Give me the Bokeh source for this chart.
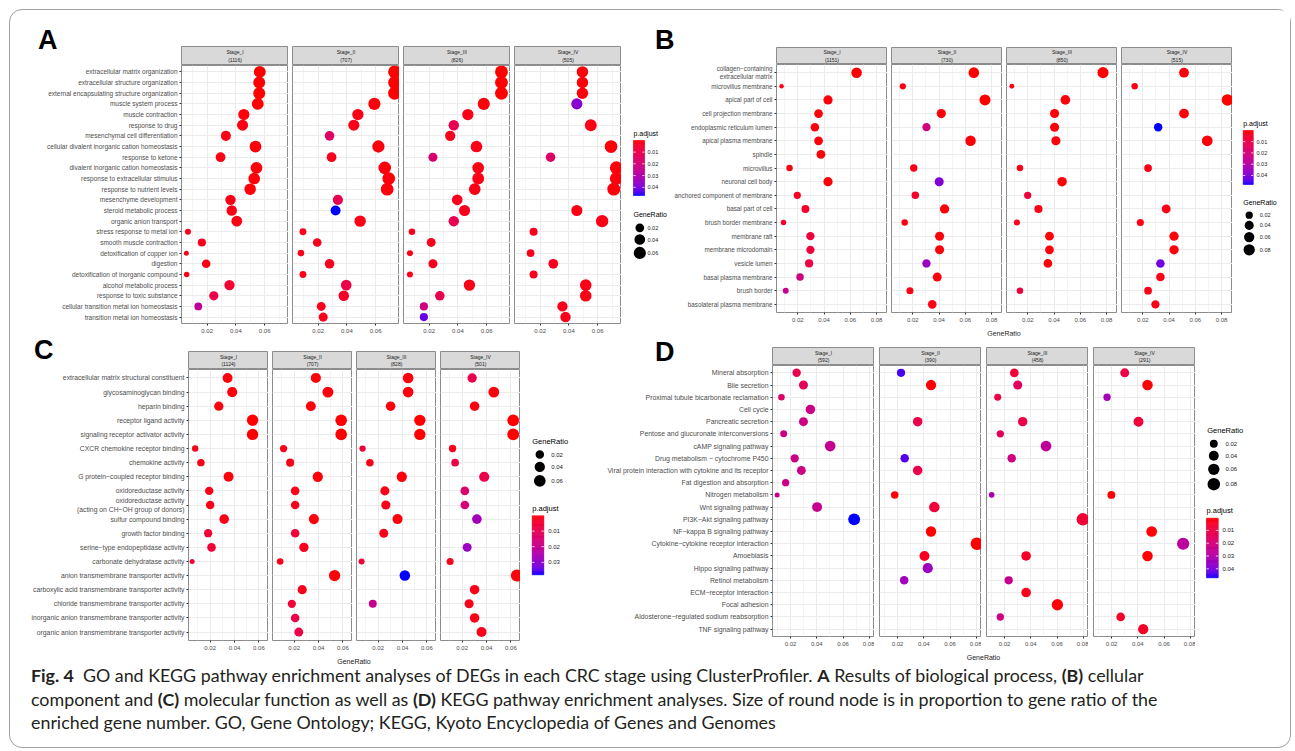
import math
from bokeh.plotting import figure
from bokeh.models import Range1d, FactorRange, FixedTicker, NumeralTickFormatter, ColumnDataSource, Div, Spacer
from bokeh.layouts import row, column
from bokeh.transform import linear_cmap
from bokeh.core.properties import value
from bokeh.embed import file_html
from bokeh.resources import INLINE

FONT = "Liberation Sans"
STAGES = ["Stage_I", "Stage_II", "Stage_III", "Stage_IV"]

# ---------------- A: GO biological process ----------------
A_terms = ["extracellular matrix organization", "extracellular structure organization",
           "external encapsulating structure organization", "muscle system process", "muscle contraction",
           "response to drug", "mesenchymal cell differentiation", "cellular divalent inorganic cation homeostasis",
           "response to ketone", "divalent inorganic cation homeostasis", "response to extracellular stimulus",
           "response to nutrient levels", "mesenchyme development", "steroid metabolic process",
           "organic anion transport", "stress response to metal ion", "smooth muscle contraction",
           "detoxification of copper ion", "digestion", "detoxification of inorganic compound",
           "alcohol metabolic process", "response to toxic substance",
           "cellular transition metal ion homeostasis", "transition metal ion homeostasis"]
A_counts = [1116, 707, 826, 505]
A_ratio_I = [0.0566, 0.0562, 0.0562, 0.0552, 0.0455, 0.0446, 0.0330, 0.0536, 0.0293, 0.0543, 0.0527, 0.0499,
             0.0362, 0.0371, 0.0406, 0.0066, 0.0163, 0.0055, 0.0193, 0.0057, 0.0355, 0.0246, 0.0138, None]
A_padj_I = [0.0002, 0.0002, 0.0002, 0.0004, 0.0008, 0.0015, 0.002, 0.001, 0.002, 0.001, 0.001, 0.001,
            0.002, 0.002, 0.002, 0.003, 0.003, 0.003, 0.002, 0.003, 0.006, 0.010, 0.026, None]
A_ratio_II = [0.0732, 0.0732, 0.0732, 0.0591, 0.0476, 0.0448, 0.0279, 0.0619, 0.0293, 0.0663, 0.0691, 0.0680,
              0.0337, 0.0321, 0.0492, 0.0094, 0.0193, 0.0080, 0.0279, 0.0094, 0.0395, 0.0378, 0.0221, 0.0235]
A_padj_II = [0.0001, 0.0001, 0.0001, 0.001, 0.002, 0.002, 0.016, 0.001, 0.003, 0.001, 0.001, 0.001,
             0.012, 0.047, 0.002, 0.003, 0.003, 0.003, 0.003, 0.003, 0.010, 0.004, 0.003, 0.003]
A_ratio_III = [0.0703, 0.0703, 0.0703, 0.0580, 0.0469, 0.0371, 0.0346, 0.0529, 0.0226, 0.0541, 0.0541, 0.0517,
               0.0395, 0.0446, 0.0371, 0.0080, 0.0214, 0.0066, 0.0226, 0.0066, 0.0480, 0.0274, 0.0163, 0.0163]
A_padj_III = [0.0001, 0.0001, 0.0001, 0.001, 0.002, 0.012, 0.003, 0.002, 0.018, 0.002, 0.002, 0.002,
              0.003, 0.003, 0.012, 0.003, 0.003, 0.003, 0.003, 0.003, 0.002, 0.011, 0.022, 0.042]
A_ratio_IV = [0.0494, 0.0494, 0.0494, 0.0455, None, 0.0552, None, 0.0693, 0.0272, 0.0730, 0.0730, 0.0712,
              None, 0.0455, 0.0631, 0.0154, None, 0.0133, 0.0291, 0.0154, 0.0517, 0.0517, 0.0355, 0.0376]
A_padj_IV = [0.001, 0.001, 0.001, 0.038, None, 0.002, None, 0.001, 0.016, 0.001, 0.001, 0.001,
             None, 0.002, 0.002, 0.003, None, 0.003, 0.003, 0.003, 0.002, 0.002, 0.003, 0.003]

# ---------------- B: GO cellular component ----------------
B_terms = ["collagen\u2212containing\nextracellular matrix", "microvillus membrane", "apical part of cell",
           "cell projection membrane", "endoplasmic reticulum lumen", "apical plasma membrane", "spindle",
           "microvillus", "neuronal cell body", "anchored component of membrane", "basal part of cell",
           "brush border membrane", "membrane raft", "membrane microdomain", "vesicle lumen",
           "basal plasma membrane", "brush border", "basolateral plasma membrane"]
B_counts = [1151, 730, 850, 515]
B_ratio_I = [0.0648, 0.0076, 0.0430, 0.0358, 0.0330, 0.0358, 0.0376, 0.0137, 0.0430, 0.0196, 0.0258, 0.0091,
             0.0296, 0.0296, 0.0286, 0.0217, 0.0108, None]
B_padj_I = [0.0002, 0.002, 0.001, 0.001, 0.001, 0.001, 0.001, 0.002, 0.001, 0.004, 0.005, 0.005,
            0.008, 0.008, 0.010, 0.022, 0.025, None]
B_ratio_II = [0.0665, 0.0124, 0.0750, 0.0417, 0.0304, 0.0640, None, 0.0207, 0.0401, 0.0219, 0.0442, 0.0138,
              0.0404, 0.0404, 0.0304, 0.0386, 0.0178, 0.0348]
B_padj_II = [0.0002, 0.002, 0.0002, 0.001, 0.022, 0.001, None, 0.002, 0.040, 0.005, 0.001, 0.002,
             0.001, 0.001, 0.036, 0.001, 0.002, 0.002]
B_ratio_III = [0.0773, 0.0078, 0.0486, 0.0404, 0.0404, 0.0414, None, 0.0140, 0.0461, 0.0199, 0.0281, 0.0117,
               0.0365, 0.0365, 0.0353, None, 0.0140, None]
B_padj_III = [0.0001, 0.002, 0.001, 0.001, 0.001, 0.001, None, 0.002, 0.001, 0.008, 0.002, 0.003,
              0.001, 0.001, 0.001, None, 0.008, None]
B_ratio_IV = [0.0514, 0.0138, 0.0845, 0.0514, 0.0317, 0.0691, None, 0.0240, None, None, 0.0378, 0.0181,
              0.0438, 0.0438, 0.0334, 0.0334, 0.0240, 0.0296]
B_padj_IV = [0.001, 0.002, 0.0002, 0.001, 0.048, 0.001, None, 0.002, None, None, 0.002, 0.002,
             0.001, 0.001, 0.042, 0.002, 0.002, 0.002]

# ---------------- C: GO molecular function ----------------
C_terms = ["extracellular matrix structural constituent", "glycosaminoglycan binding", "heparin binding",
           "receptor ligand activity", "signaling receptor activator activity", "CXCR chemokine receptor binding",
           "chemokine activity", "G protein\u2212coupled receptor binding", "oxidoreductase activity",
           "oxidoreductase activity\n(acting on CH\u2212OH group of donors)", "sulfur compound binding",
           "growth factor binding", "serine\u2212type endopeptidase activity", "carbonate dehydratase activity",
           "anion transmembrane transporter activity", "carboxylic acid transmembrane transporter activity",
           "chloride transmembrane transporter activity", "inorganic anion transmembrane transporter activity",
           "organic anion transmembrane transporter activity"]
C_counts = [1124, 707, 828, 501]
C_ratio_I = [0.0343, 0.0381, 0.0271, 0.0548, 0.0548, 0.0077, 0.0124, 0.0351, 0.0192, 0.0200, 0.0315, 0.0183,
             0.0211, 0.0052, None, None, None, None, None]
C_padj_I = [0.001, 0.001, 0.001, 0.0002, 0.0002, 0.002, 0.002, 0.001, 0.002, 0.002, 0.002, 0.006,
            0.006, 0.006, None, None, None, None, None]
C_ratio_II = [0.0378, 0.0477, 0.0337, 0.0586, 0.0586, 0.0113, 0.0167, 0.0394, 0.0208, 0.0208, 0.0362, 0.0208,
              0.0280, 0.0085, 0.0532, 0.0266, 0.0181, 0.0208, 0.0238]
C_padj_II = [0.001, 0.001, 0.001, 0.0002, 0.0002, 0.002, 0.002, 0.001, 0.002, 0.003, 0.001, 0.006,
             0.003, 0.002, 0.001, 0.002, 0.006, 0.008, 0.008]
C_ratio_III = [0.0446, 0.0446, 0.0302, 0.0542, 0.0542, 0.0072, 0.0132, 0.0394, 0.0255, 0.0263, 0.0359, 0.0246,
               None, 0.0064, 0.0419, None, 0.0156, None, None]
C_padj_III = [0.001, 0.001, 0.001, 0.0002, 0.0002, 0.006, 0.002, 0.001, 0.002, 0.002, 0.001, 0.002,
              None, 0.006, 0.038, None, 0.020, None, None]
C_ratio_IV = [0.0282, 0.0460, 0.0302, 0.0619, 0.0619, 0.0121, 0.0142, 0.0381, 0.0222, 0.0222, 0.0321, None,
              0.0241, 0.0101, 0.0649, 0.0302, 0.0257, 0.0302, 0.0359]
C_padj_IV = [0.009, 0.001, 0.001, 0.0002, 0.0002, 0.002, 0.008, 0.009, 0.014, 0.016, 0.027, None,
             0.028, 0.002, 0.001, 0.002, 0.002, 0.002, 0.002]

# ---------------- D: KEGG pathways ----------------
D_terms = ["Mineral absorption", "Bile secretion", "Proximal tubule bicarbonate reclamation", "Cell cycle",
           "Pancreatic secretion", "Pentose and glucuronate interconversions", "cAMP signaling pathway",
           "Drug metabolism \u2212 cytochrome P450", "Viral protein interaction with cytokine and its receptor",
           "Fat digestion and absorption", "Nitrogen metabolism", "Wnt signaling pathway",
           "PI3K\u2212Akt signaling pathway", "NF\u2212kappa B signaling pathway",
           "Cytokine\u2212cytokine receptor interaction", "Amoebiasis", "Hippo signaling pathway",
           "Retinol metabolism", "ECM\u2212receptor interaction", "Focal adhesion",
           "Aldosterone\u2212regulated sodium reabsorption", "TNF signaling pathway"]
D_counts = [592, 390, 458, 291]
D_ratio_I = [0.0246, 0.0298, 0.0130, 0.0351, 0.0298, 0.0147, 0.0502, 0.0231, 0.0282, 0.0162, 0.0097, 0.0402,
             0.0685, None, None, None, None, None, None, None, None, None]
D_padj_I = [0.012, 0.014, 0.017, 0.023, 0.023, 0.023, 0.025, 0.023, 0.023, 0.023, 0.025, 0.025,
            0.047, None, None, None, None, None, None, None, None, None]
D_ratio_II = [0.0226, 0.0455, None, None, 0.0353, None, None, 0.0254, 0.0353, None, 0.0178, 0.0480,
              None, 0.0455, 0.0805, 0.0405, 0.0430, 0.0250, None, None, None, None]
D_padj_II = [0.045, 0.001, None, None, 0.011, None, None, 0.044, 0.011, None, 0.001, 0.008,
             None, 0.001, 0.0005, 0.004, 0.035, 0.034, None, None, None, None]
D_ratio_III = [0.0274, 0.0300, 0.0147, None, 0.0338, 0.0167, 0.0516, 0.0254, None, None, 0.0101, None,
               0.0797, None, None, 0.0364, None, 0.0231, 0.0364, 0.0603, 0.0167, None]
D_padj_III = [0.008, 0.015, 0.010, None, 0.010, 0.014, 0.027, 0.022, None, None, 0.032, None,
              0.007, None, None, 0.005, None, 0.025, 0.003, 0.001, 0.022, None]
D_ratio_IV = [0.0300, 0.0474, 0.0165, None, 0.0405, None, None, None, None, None, 0.0198, None,
              None, 0.0506, 0.0746, 0.0474, None, None, None, None, 0.0269, 0.0441]
D_padj_IV = [0.010, 0.001, 0.033, None, 0.008, None, None, None, None, None, 0.001, None,
             None, 0.001, 0.028, 0.001, None, None, None, None, 0.005, 0.005]

CAPTION = ('<b>Fig. 4</b>&ensp;GO and KEGG pathway enrichment analyses of DEGs in each CRC stage using '
           'ClusterProfiler. <b>A</b> Results of biological process, <b>(B)</b> cellular<br>'
           'component and <b>(C)</b> molecular function as well as <b>(D)</b> KEGG pathway enrichment analyses. '
           'Size of round node is in proportion to gene ratio of the<br>'
           'enriched gene number. GO, Gene Ontology; KEGG, Kyoto Encyclopedia of Genes and Genomes')


# ---------------- colour palette: red -> blue interpolated in Lab ----------------
def _lin(c):
    c /= 255.0
    return c / 12.92 if c <= 0.04045 else ((c + 0.055) / 1.055) ** 2.4


def _gam(c):
    c = min(max(c, 0.0), 1.0)
    return 12.92 * c if c <= 0.0031308 else 1.055 * c ** (1 / 2.4) - 0.055


def hex_to_lab(h):
    r, g, b = [_lin(int(h[i:i + 2], 16)) for i in (1, 3, 5)]
    X = (0.4124 * r + 0.3576 * g + 0.1805 * b) / 0.95047
    Y = 0.2126 * r + 0.7152 * g + 0.0722 * b
    Z = (0.0193 * r + 0.1192 * g + 0.9505 * b) / 1.08883

    def f(t):
        return t ** (1 / 3) if t > 216 / 24389 else (24389 / 27 * t + 16) / 116
    fx, fy, fz = f(X), f(Y), f(Z)
    return 116 * fy - 16, 500 * (fx - fy), 200 * (fy - fz)


def lab_to_hex(L, a, b):
    fy = (L + 16) / 116
    fx = fy + a / 500
    fz = fy - b / 200

    def finv(t):
        return t ** 3 if t ** 3 > 216 / 24389 else (116 * t - 16) / (24389 / 27)
    X, Y, Z = 0.95047 * finv(fx), finv(fy), 1.08883 * finv(fz)
    r = 3.2406 * X - 1.5372 * Y - 0.4986 * Z
    g = -0.9689 * X + 1.8758 * Y + 0.0415 * Z
    bb = 0.0557 * X - 0.2040 * Y + 1.0570 * Z
    return "#%02x%02x%02x" % tuple(int(round(_gam(c) * 255)) for c in (r, g, bb))


def lab_gradient(c1, c2, n):
    l1, l2 = hex_to_lab(c1), hex_to_lab(c2)
    return [lab_to_hex(*[l1[k] + (l2[k] - l1[k]) * i / (n - 1) for k in range(3)]) for i in range(n)]


PALETTE = lab_gradient("#FF0000", "#0000FF", 256)
BORDER = "#8c8c8c"


def size_scale(v, vmin, vmax, d0, d1):
    return d0 + (d1 - d0) * math.sqrt(max(v - vmin, 0.0) / (vmax - vmin))


def make_strip(label, fw, h, sh, fs):
    s = figure(width=fw, height=h, x_range=Range1d(0, 1), y_range=Range1d(0, 1), title=None,
               x_axis_type=None, y_axis_type=None, output_backend="svg", toolbar_location=None,
               min_border_left=0, min_border_right=0, min_border_top=h - sh, min_border_bottom=0)
    s.background_fill_color = "#d9d9d9"
    s.outline_line_color = BORDER
    s.text(x=[0.5], y=[0.5], text=[label], text_align="center", text_baseline="middle",
           text_font=value(FONT), text_font_size=value(fs), text_color="#1a1a1a", text_line_height=1.2)
    return s


def make_facet(terms, ratios, padjs, xr, yr, ticks, minors, plo, phi, vmin, vmax, d0, d1,
               fw, h, ml, mb, yfs, xfs):
    p = figure(width=fw + ml, height=h, x_range=xr, y_range=yr, title=None, output_backend="svg",
               toolbar_location=None, min_border_left=ml, min_border_right=0, min_border_top=0,
               min_border_bottom=mb)
    idx = [i for i, v in enumerate(ratios) if v is not None]
    src = ColumnDataSource(data=dict(
        term=[terms[i] for i in idx], ratio=[ratios[i] for i in idx], padj=[padjs[i] for i in idx],
        size=[size_scale(ratios[i], vmin, vmax, d0, d1) for i in idx]))
    p.scatter(x="ratio", y="term", size="size", source=src,
              fill_color=linear_cmap("padj", PALETTE, plo, phi), line_color=None)
    tk = FixedTicker(ticks=ticks, minor_ticks=minors)
    p.xaxis.ticker = tk
    p.xgrid.ticker = tk
    p.xaxis.formatter = NumeralTickFormatter(format="0.00")
    for ax in (p.xaxis[0], p.yaxis[0]):
        ax.axis_line_color = None
        ax.major_tick_line_color = "#333333"
        ax.major_tick_out = 2
        ax.major_tick_in = 0
        ax.minor_tick_line_color = None
        ax.major_label_text_font = FONT
        ax.major_label_text_color = "#4d4d4d"
    p.xaxis.major_label_text_font_size = xfs
    p.xaxis.major_label_standoff = 1
    p.yaxis.major_label_text_font_size = yfs
    p.yaxis.major_label_standoff = 2
    if ml == 0:
        p.yaxis.visible = False
    p.xgrid.grid_line_color = "#ebebeb"
    p.xgrid.minor_grid_line_color = "#f4f4f4"
    p.ygrid.grid_line_color = "#ebebeb"
    p.outline_line_color = BORDER
    p.background_fill_color = "white"
    return p


def build_panel(terms, counts, ratios, padjs, fw, gap, lw, top_h, strip_h, mid_h, mb, yfs, xfs, sfs, d0, d1):
    allv = [v for r in ratios for v in r if v is not None]
    vmin, vmax = min(allv), max(allv)
    span = vmax - vmin
    xr = Range1d(vmin - 0.05 * span, vmax + 0.05 * span)
    allp = [v for r in padjs for v in r if v is not None]
    plo, phi = min(allp), max(allp)
    ticks = [0.02 * k for k in range(1, 6) if xr.start <= 0.02 * k <= xr.end]
    minors = [0.01 + 0.02 * k for k in range(0, 5) if xr.start <= 0.01 + 0.02 * k <= xr.end]
    yr = FactorRange(factors=list(reversed(terms)), range_padding=0.1, range_padding_units="absolute")
    top, mid = [], []
    for i, st in enumerate(STAGES):
        if i > 0:
            top.append(Spacer(width=gap, height=top_h))
            mid.append(Spacer(width=gap, height=mid_h))
        top.append(make_strip(f"{st}\n({counts[i]})", fw, top_h, strip_h, sfs))
        mid.append(make_facet(terms, ratios[i], padjs[i], xr, yr, ticks, minors, plo, phi, vmin, vmax,
                              d0, d1, fw, mid_h, lw if i == 0 else 0, mb, yfs, xfs))
    return dict(top=top, mid=mid, vmin=vmin, vmax=vmax, plo=plo, phi=phi, d0=d0, d1=d1)


def legend_fig(x0, x1, y0, y1):
    p = figure(width=x1 - x0, height=y1 - y0, x_range=Range1d(x0, x1), y_range=Range1d(y1, y0), title=None,
               x_axis_type=None, y_axis_type=None, output_backend="svg", toolbar_location=None,
               min_border_left=0, min_border_right=0, min_border_top=0, min_border_bottom=0)
    p.outline_line_color = None
    return p


def add_colorbar(p, pan, x, ty, top, bot, bw, lab_x, tfs, lfs):
    plo, phi = pan["plo"], pan["phi"]
    n = 64
    step = (bot - top) / n
    src = ColumnDataSource(dict(v=[plo + (phi - plo) * (k + 0.5) / n for k in range(n)],
                                t=[top + step * k for k in range(n)],
                                b=[top + step * (k + 1) for k in range(n)]))
    cm = linear_cmap("v", PALETTE, plo, phi)
    p.quad(left=x, right=x + bw, top="t", bottom="b", source=src, fill_color=cm, line_color=cm, line_width=0.6)
    breaks = [0.01 * k for k in range(1, 6) if plo <= 0.01 * k <= phi]
    ys = [top + (b - plo) / (phi - plo) * (bot - top) for b in breaks]
    nb = len(ys)
    p.segment(x0=[x] * nb, y0=ys, x1=[x + bw * 0.2] * nb, y1=ys, line_color="white", line_width=0.8)
    p.segment(x0=[x + bw * 0.8] * nb, y0=ys, x1=[x + bw] * nb, y1=ys, line_color="white", line_width=0.8)
    p.text(x=[lab_x] * nb, y=ys, text=[f"{b:.2f}" for b in breaks], text_font=value(FONT),
           text_font_size=value(lfs), text_baseline="middle", text_color="#1a1a1a")
    p.text(x=[x], y=[ty], text=["p.adjust"], text_font=value(FONT), text_font_size=value(tfs),
           text_baseline="middle", text_color="#000000")


def add_sizes(p, pan, x, ty, xc, y_first, pad, lab_x, tfs, lfs):
    breaks = [0.02 * k for k in range(1, 6) if pan["vmin"] <= 0.02 * k <= pan["vmax"]]
    ds = [size_scale(b, pan["vmin"], pan["vmax"], pan["d0"], pan["d1"]) for b in breaks]
    ys = [y_first]
    for k in range(1, len(ds)):
        ys.append(ys[-1] + (ds[k - 1] + ds[k]) / 2 + pad)
    p.scatter(x=[xc] * len(ys), y=ys, size=ds, fill_color="black", line_color=None)
    p.text(x=[lab_x] * len(ys), y=ys, text=[f"{b:.2f}" for b in breaks], text_font=value(FONT),
           text_font_size=value(lfs), text_baseline="middle", text_color="#1a1a1a")
    p.text(x=[x], y=[ty], text=["GeneRatio"], text_font=value(FONT), text_font_size=value(tfs),
           text_baseline="middle", text_color="#000000")


def letter_div(ch, w, h, pl, pt):
    html = (f'<div style="padding:{pt}px 0 0 {pl}px;font-family:\'Liberation Sans\',sans-serif;'
            f'font-weight:bold;font-size:27px;line-height:27px;color:#000;white-space:nowrap">{ch}</div>')
    return Div(text=html, width=w, height=h, margin=0, styles={"overflow": "visible"})


def axis_title_div(w, h, pt):
    html = (f'<div style="width:{w}px;padding-top:{pt}px;text-align:center;'
            f'font-family:\'Liberation Sans\',sans-serif;font-size:7px;line-height:8px;color:#1a1a1a">'
            f'GeneRatio</div>')
    return Div(text=html, width=w, height=h, margin=0)


# ---------------- panels ----------------
A = build_panel(A_terms, A_counts, [A_ratio_I, A_ratio_II, A_ratio_III, A_ratio_IV],
                [A_padj_I, A_padj_II, A_padj_III, A_padj_IV],
                fw=107, gap=4, lw=171, top_h=55, strip_h=19, mid_h=270, mb=12,
                yfs="6.5px", xfs="6px", sfs="5px", d0=5.0, d1=13.0)
B = build_panel(B_terms, B_counts, [B_ratio_I, B_ratio_II, B_ratio_III, B_ratio_IV],
                [B_padj_I, B_padj_II, B_padj_III, B_padj_IV],
                fw=111, gap=4, lw=106, top_h=54, strip_h=17, mid_h=260, mb=10,
                yfs="6.3px", xfs="6px", sfs="5px", d0=4.5, d1=11.5)
C = build_panel(C_terms, C_counts, [C_ratio_I, C_ratio_II, C_ratio_III, C_ratio_IV],
                [C_padj_I, C_padj_II, C_padj_III, C_padj_IV],
                fw=80, gap=4, lw=178, top_h=34, strip_h=18, mid_h=283, mb=10,
                yfs="6.8px", xfs="6px", sfs="5px", d0=5.0, d1=12.0)
D = build_panel(D_terms, D_counts, [D_ratio_I, D_ratio_II, D_ratio_III, D_ratio_IV],
                [D_padj_I, D_padj_II, D_padj_III, D_padj_IV],
                fw=102, gap=5, lw=172, top_h=30, strip_h=18, mid_h=283, mb=11,
                yfs="6.9px", xfs="6px", sfs="5px", d0=5.0, d1=12.5)

# legends
legA = legend_fig(621, 670, 55, 335)
add_colorbar(legA, A, 633, 133.3, 140, 195, 11, 647, "7px", "5.5px")
add_sizes(legA, A, 633, 214.3, 639.3, 227.3, 2, 647, "7px", "5.5px")

legB = legend_fig(1232, 1290, 10, 335)
add_colorbar(legB, B, 1242.7, 122.7, 130, 184, 10, 1256, "7px", "5.5px")
add_sizes(legB, B, 1242.7, 202.3, 1248.7, 214.7, 2, 1259.3, "7px", "5.5px")

legC = legend_fig(520, 600, 335, 660)
add_sizes(legC, C, 531.7, 440.7, 539.3, 454, 3, 550.7, "7.5px", "6px")
add_colorbar(legC, C, 531.7, 507.7, 515.3, 574.3, 11.6, 547.7, "7.5px", "6px")

legD = legend_fig(1195, 1290, 335, 660)
add_sizes(legD, D, 1206.7, 430, 1213.3, 443.3, 3, 1225, "7.5px", "6px")
add_colorbar(legD, D, 1206, 510, 517.7, 577.3, 11.7, 1222, "7.5px", "6px")

# ---------------- layout ----------------
A_col = column(row(letter_div("A", 171, 55, 28, 17), *A["top"]), row(*A["mid"]))
X_col = column(letter_div("B", 49, 45, 34, 17), legA)
B_col = column(row(Spacer(width=106, height=54), *B["top"]), row(*B["mid"]),
               row(Spacer(width=106, height=11), axis_title_div(456, 11, 0)))
row1 = row(A_col, X_col, B_col, legB)

C_col = column(row(letter_div("C", 178, 34, 24, 2), *C["top"]), row(*C["mid"]),
               row(Spacer(width=178, height=8), axis_title_div(332, 8, 0)))
D_col = column(row(letter_div("D", 172, 30, 55, 4), *D["top"]), row(*D["mid"]),
               row(Spacer(width=172, height=12), axis_title_div(423, 12, 3)))
row2 = row(C_col, legC, D_col, legD)

cap_html = ('<div style="padding:4px 0 0 21px;font-family:Lato,sans-serif;font-size:17.85px;'
            'line-height:23.5px;color:#231f20;white-space:nowrap">' + CAPTION + '</div>')
caption = Div(text=cap_html, width=1280, height=87, margin=0)

inner = column(row1, row2, caption, width=1280, height=737,
               styles={"outline": "1px solid #a0a0a0", "border-radius": "12px"})
root = column(Spacer(width=1290, height=10), row(Spacer(width=10, height=737), inner))

open("out.html", "w").write(file_html(root, INLINE))
